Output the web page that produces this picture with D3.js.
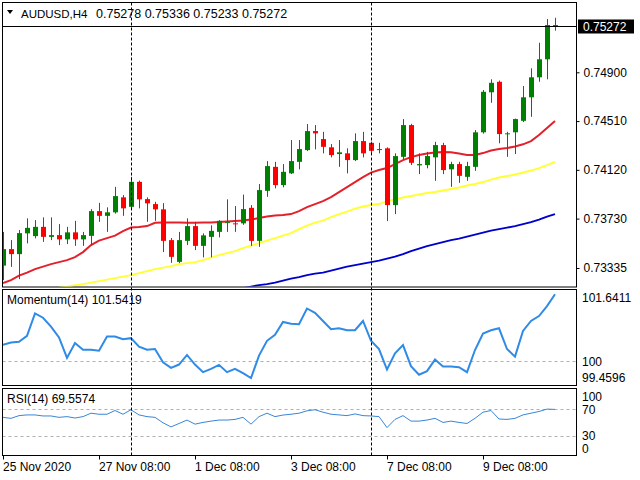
<!DOCTYPE html>
<html>
<head>
<meta charset="utf-8">
<script src="https://cdn.jsdelivr.net/npm/d3@7"></script>
<style>
  body { margin: 0; background: #fff; }
  text { font-family: "Liberation Sans", Arial, sans-serif; }
</style>
</head>
<body>
<script>
// ---- data (AUDUSD H4, 70 bars) ----
const opens = [
  0.73354, 0.73486, 0.73446, 0.73612, 0.73590, 0.73664, 0.73584, 0.73598, 0.73564, 0.73620,
  0.73564, 0.73592, 0.73790, 0.73752, 0.73780, 0.73900, 0.73824, 0.74024, 0.73886, 0.73846,
  0.73804, 0.73558, 0.73384, 0.73552, 0.73670, 0.73512, 0.73584, 0.73624, 0.73694, 0.73692,
  0.73692, 0.73816, 0.73552, 0.73952, 0.74144, 0.73998, 0.74092, 0.74184, 0.74278, 0.74430,
  0.74366, 0.74300, 0.74246, 0.74252, 0.74198, 0.74350, 0.74336, 0.74278, 0.74292, 0.73838,
  0.74224, 0.74478, 0.74156, 0.74158, 0.74220, 0.74318, 0.74124, 0.74166, 0.74064, 0.74144,
  0.74420, 0.74740, 0.74824, 0.74406, 0.74420, 0.74512, 0.74700, 0.74860, 0.75004, 0.75278
];
const highs = [
  0.73624, 0.73558, 0.73638, 0.73732, 0.73718, 0.73740, 0.73740, 0.73686, 0.73664, 0.73712,
  0.73624, 0.73806, 0.73856, 0.73820, 0.73984, 0.73918, 0.74064, 0.74034, 0.73900, 0.73864,
  0.73854, 0.73574, 0.73624, 0.73732, 0.73704, 0.73612, 0.73676, 0.73718, 0.73884, 0.73830,
  0.73922, 0.73838, 0.74006, 0.74190, 0.74184, 0.74166, 0.74358, 0.74358, 0.74486, 0.74478,
  0.74424, 0.74326, 0.74358, 0.74292, 0.74412, 0.74424, 0.74346, 0.74336, 0.74300, 0.74252,
  0.74526, 0.74488, 0.74252, 0.74264, 0.74344, 0.74336, 0.74184, 0.74184, 0.74184, 0.74438,
  0.74758, 0.74844, 0.74834, 0.74424, 0.74530, 0.74790, 0.74932, 0.75136, 0.75326, 0.75336
];
const lows = [
  0.73238, 0.73344, 0.73246, 0.73532, 0.73572, 0.73544, 0.73558, 0.73518, 0.73526, 0.73512,
  0.73512, 0.73518, 0.73704, 0.73624, 0.73770, 0.73752, 0.73814, 0.73812, 0.73704, 0.73712,
  0.73462, 0.73376, 0.73374, 0.73518, 0.73478, 0.73420, 0.73420, 0.73580, 0.73624, 0.73624,
  0.73680, 0.73512, 0.73504, 0.73904, 0.73972, 0.73980, 0.74086, 0.74124, 0.74270, 0.74284,
  0.74252, 0.74220, 0.74144, 0.74092, 0.74190, 0.74220, 0.74238, 0.74252, 0.73710, 0.73766,
  0.74204, 0.74158, 0.74086, 0.74132, 0.74032, 0.74086, 0.73984, 0.74016, 0.74032, 0.74112,
  0.74410, 0.74656, 0.74332, 0.74224, 0.74246, 0.74502, 0.74544, 0.74824, 0.74844, 0.75233
];
const closes = [
  0.73486, 0.73446, 0.73614, 0.73656, 0.73664, 0.73584, 0.73598, 0.73564, 0.73620, 0.73564,
  0.73598, 0.73790, 0.73752, 0.73780, 0.73910, 0.73812, 0.74024, 0.73884, 0.73852, 0.73804,
  0.73552, 0.73424, 0.73558, 0.73670, 0.73512, 0.73596, 0.73632, 0.73712, 0.73702, 0.73684,
  0.73806, 0.73552, 0.73958, 0.74150, 0.73998, 0.74104, 0.74190, 0.74286, 0.74430, 0.74412,
  0.74304, 0.74238, 0.74260, 0.74198, 0.74350, 0.74252, 0.74272, 0.74286, 0.73838, 0.74230,
  0.74478, 0.74176, 0.74166, 0.74230, 0.74318, 0.74118, 0.74166, 0.74072, 0.74150, 0.74420,
  0.74744, 0.74816, 0.74406, 0.74412, 0.74526, 0.74700, 0.74860, 0.75004, 0.75278, 0.75272
];

// moving averages (null = off the chart)
const maRed = [
  0.73214, 0.73238, 0.73274, 0.73298, 0.73326, 0.73346, 0.73366, 0.73382, 0.73398, 0.73422,
  0.73462, 0.73518, 0.73554, 0.73574, 0.73594, 0.73630, 0.73658, 0.73662, 0.73670, 0.73696,
  0.73698, 0.73698, 0.73698, 0.73697, 0.73697, 0.73698, 0.73698, 0.73702, 0.73706, 0.73710,
  0.73714, 0.73722, 0.73734, 0.73746, 0.73754, 0.73758, 0.73766, 0.73790, 0.73822, 0.73846,
  0.73870, 0.73902, 0.73942, 0.73982, 0.74022, 0.74062, 0.74098, 0.74118, 0.74134, 0.74166,
  0.74198, 0.74222, 0.74238, 0.74250, 0.74258, 0.74262, 0.74260, 0.74250, 0.74238, 0.74238,
  0.74254, 0.74274, 0.74286, 0.74294, 0.74306, 0.74324, 0.74350, 0.74398, 0.74454, 0.74510
];
const maYellow = [
  null, null, null, null, null, null, 0.73174, 0.73178, 0.73186, 0.73198,
  0.73206, 0.73218, 0.73230, 0.73242, 0.73254, 0.73266, 0.73278, 0.73294, 0.73310, 0.73326,
  0.73338, 0.73350, 0.73366, 0.73374, 0.73382, 0.73398, 0.73418, 0.73438, 0.73454, 0.73470,
  0.73494, 0.73514, 0.73534, 0.73554, 0.73574, 0.73594, 0.73614, 0.73646, 0.73674, 0.73698,
  0.73714, 0.73742, 0.73766, 0.73786, 0.73810, 0.73826, 0.73838, 0.73846, 0.73870, 0.73882,
  0.73898, 0.73910, 0.73922, 0.73934, 0.73942, 0.73954, 0.73966, 0.73978, 0.73994, 0.74006,
  0.74022, 0.74042, 0.74058, 0.74070, 0.74082, 0.74098, 0.74114, 0.74134, 0.74158, 0.74184
];
const maBlue = [
  null, null, null, null, null, null, null, null, null, null,
  null, null, null, null, null, null, null, null, null, null,
  null, null, null, null, null, null, null, null, null, 0.73162,
  0.73174, 0.73186, 0.73198, 0.73206, 0.73218, 0.73234, 0.73250, 0.73262, 0.73278, 0.73290,
  0.73298, 0.73314, 0.73330, 0.73346, 0.73358, 0.73370, 0.73382, 0.73394, 0.73410, 0.73426,
  0.73446, 0.73470, 0.73490, 0.73510, 0.73526, 0.73542, 0.73558, 0.73570, 0.73586, 0.73602,
  0.73618, 0.73634, 0.73646, 0.73658, 0.73670, 0.73686, 0.73702, 0.73722, 0.73746, 0.73766
];

const momentum = [
  100.371, 100.424, 100.439, 100.577, 101.098, 100.998, 100.791, 100.539, 100.064, 100.409,
  100.256, 100.256, 100.233, 100.562, 100.562, 100.501, 100.524, 100.325, 100.256, 100.271,
  99.965, 99.835, 99.911, 100.133, 99.911, 99.735, 99.812, 99.904, 99.735, 99.812,
  99.712, 99.597, 100.118, 100.462, 100.600, 100.899, 100.860, 100.845, 101.212, 101.113,
  100.922, 100.730, 100.753, 100.707, 100.707, 100.922, 100.462, 100.271, 99.796, 100.171,
  100.363, 99.873, 99.674, 99.758, 100.026, 99.865, 99.865, 99.850, 99.735, 100.248,
  100.631, 100.707, 100.753, 100.271, 100.095, 100.692, 100.922, 101.036, 101.266, 101.5419
];
const rsi = [
  57.5, 56.0, 60.1, 61.2, 61.2, 59.6, 59.6, 57.5, 58.6, 56.5,
  58.6, 63.8, 62.2, 62.2, 67.9, 62.2, 69.0, 61.2, 58.6, 57.5,
  49.3, 43.0, 48.2, 53.4, 47.2, 49.8, 51.8, 53.4, 53.4, 54.4,
  57.5, 47.2, 58.6, 63.8, 58.6, 61.0, 62.2, 63.8, 67.4, 69.0,
  65.3, 62.2, 61.2, 60.1, 62.7, 60.1, 59.6, 58.6, 42.0, 54.4,
  60.1, 51.8, 51.8, 53.4, 56.0, 49.8, 51.8, 49.8, 48.2, 56.0,
  65.3, 67.9, 55.0, 54.4, 56.0, 61.2, 63.8, 66.4, 70.0, 69.5574
];

const priceTicks = [0.74900, 0.74510, 0.74120, 0.73730, 0.73335];
const momTicks = [101.6411, 100, 99.4596];
const momTickLabels = ["101.6411", "100", "99.4596"];
const rsiTicks = [100, 70, 30, 0];
const xTickIndex = [0, 12, 24, 36, 48, 60];
const xTickLabels = ["25 Nov 2020", "27 Nov 08:00", "1 Dec 08:00", "3 Dec 08:00", "7 Dec 08:00", "9 Dec 08:00"];
const separatorIndex = [16, 46];
const header = { symbol: "AUDUSD,H4", ohlc: "0.75278 0.75336 0.75233 0.75272" };
const lastPrice = 0.75272;

// ---- layout ----
const W = 640, H = 480;
const L = 2.5, R = 576.5;
const mainP = { top: 2.5, bottom: 287 };
const momP = { top: 289.5, bottom: 385.5 };
const rsiP = { top: 388.5, bottom: 455.5 };

const svg = d3.select("body").append("svg").attr("width", W).attr("height", H);

const x = d3.scaleLinear().domain([0, opens.length - 1]).range([3, 555]);
const y = d3.scaleLinear().domain([0.73335, 0.749]).range([268, 72.3]);
const yMom = d3.scaleLinear().domain([99.4596, 101.6411]).range([384, 290]);
const yRsi = d3.scaleLinear().domain([0, 100]).range([455.3, 389.3]);

const defs = svg.append("defs");
[["clipMain", mainP], ["clipMom", momP], ["clipRsi", rsiP]].forEach(([id, p]) => {
  defs.append("clipPath").attr("id", id)
    .append("rect").attr("x", L + 0.5).attr("y", p.top + 0.5)
    .attr("width", R - L - 1).attr("height", p.bottom - p.top - 1);
});

// panel frames
[mainP, momP, rsiP].forEach((p) => {
  svg.append("rect")
    .attr("x", L).attr("y", p.top)
    .attr("width", R - L).attr("height", p.bottom - p.top)
    .attr("fill", "none").attr("stroke", "#000").attr("stroke-width", 1);
});

// ---- main panel ----
const gMain = svg.append("g").attr("clip-path", "url(#clipMain)");

const maLine = (yy) => d3.line()
  .defined((d) => d != null)
  .x((d, i) => x(i))
  .y((d) => yy(d));

[[maBlue, "#0000cd"], [maYellow, "#ffff33"], [maRed, "#e4202a"]].forEach(([arr, col]) => {
  gMain.append("path")
    .datum(arr)
    .attr("fill", "none")
    .attr("stroke", col)
    .attr("stroke-width", 2)
    .attr("d", maLine(y));
});

const bars = d3.range(opens.length).map((i) => ({
  i, o: opens[i], h: highs[i], l: lows[i], c: closes[i],
}));

const candle = gMain.selectAll("g.candle").data(bars).join("g").attr("class", "candle");
candle.append("line")
  .attr("x1", (d) => Math.round(x(d.i)) + 0.5)
  .attr("x2", (d) => Math.round(x(d.i)) + 0.5)
  .attr("y1", (d) => y(d.h))
  .attr("y2", (d) => y(d.l))
  .attr("stroke", (d) => (d.c >= d.o ? "#008000" : "#ff0000"))
  .attr("stroke-width", 1);
candle.append("rect")
  .attr("x", (d) => Math.round(x(d.i)) - 2)
  .attr("width", 5)
  .attr("y", (d) => y(Math.max(d.o, d.c)))
  .attr("height", (d) => Math.max(1, Math.abs(y(d.o) - y(d.c))))
  .attr("fill", (d) => (d.c >= d.o ? "#008000" : "#ff0000"));

// bid line
svg.append("line")
  .attr("x1", L).attr("x2", R)
  .attr("y1", Math.round(y(lastPrice)) + 0.5).attr("y2", Math.round(y(lastPrice)) + 0.5)
  .attr("stroke", "#000").attr("stroke-width", 1);

// header
svg.append("path")
  .attr("d", "M7,10 L13,10 L10,14 Z")
  .attr("fill", "#000");
svg.append("text").attr("x", 21).attr("y", 17.5)
  .attr("font-size", 11.5).attr("fill", "#000").text(header.symbol);
svg.append("text").attr("x", 96).attr("y", 17.5)
  .attr("font-size", 12.5).attr("fill", "#000").text(header.ohlc);

// right price axis
const priceAxis = d3.axisRight(y).tickValues(priceTicks).tickSize(3).tickPadding(4)
  .tickFormat(d3.format(".5f"));
svg.append("g")
  .attr("transform", `translate(${R},0)`)
  .call(priceAxis)
  .call((g) => g.select(".domain").remove())
  .call((g) => g.selectAll("text").attr("font-size", 12).attr("fill", "#000")
    .attr("font-family", "Liberation Sans, Arial, sans-serif"));

svg.append("rect")
  .attr("x", 578).attr("y", Math.round(y(lastPrice)) - 6.5)
  .attr("width", 56).attr("height", 14).attr("fill", "#000");
svg.append("text")
  .attr("x", 583).attr("y", Math.round(y(lastPrice)) + 5)
  .attr("font-size", 12).attr("fill", "#fff")
  .text(d3.format(".5f")(lastPrice));

// ---- momentum panel ----
const gMom = svg.append("g").attr("clip-path", "url(#clipMom)");
gMom.append("line")
  .attr("x1", L).attr("x2", R)
  .attr("y1", Math.round(yMom(100)) + 0.5).attr("y2", Math.round(yMom(100)) + 0.5)
  .attr("stroke", "#b0b0b0").attr("stroke-dasharray", "3,3");
gMom.append("path")
  .datum(momentum)
  .attr("fill", "none")
  .attr("stroke", "#2f8be6")
  .attr("stroke-width", 2)
  .attr("d", maLine(yMom));

svg.append("text").attr("x", 7).attr("y", 304)
  .attr("font-size", 12).attr("fill", "#000")
  .text(`Momentum(14) ${momentum[momentum.length - 1].toFixed(4)}`);

svg.append("g").selectAll("text").data(momTicks).join("text")
  .attr("x", 582)
  .attr("y", (d, i) => [302, 366, 382][i])
  .attr("font-size", 12).attr("fill", "#000")
  .text((d, i) => momTickLabels[i]);

// ---- RSI panel ----
const gRsi = svg.append("g").attr("clip-path", "url(#clipRsi)");
[70, 30].forEach((lv) => {
  gRsi.append("line")
    .attr("x1", L).attr("x2", R)
    .attr("y1", Math.round(yRsi(lv)) + 0.5).attr("y2", Math.round(yRsi(lv)) + 0.5)
    .attr("stroke", "#b0b0b0").attr("stroke-dasharray", "3,3");
});
gRsi.append("path")
  .datum(rsi)
  .attr("fill", "none")
  .attr("stroke", "#3a86d6")
  .attr("stroke-width", 1)
  .attr("d", maLine(yRsi));

svg.append("text").attr("x", 7).attr("y", 403)
  .attr("font-size", 12).attr("fill", "#000")
  .text(`RSI(14) ${rsi[rsi.length - 1].toFixed(4)}`);

svg.append("g").selectAll("text").data(rsiTicks).join("text")
  .attr("x", 582)
  .attr("y", (d, i) => [401, 414, 440, 453][i])
  .attr("font-size", 12).attr("fill", "#000")
  .text((d) => d);

// ---- week separators ----
svg.append("g").selectAll("line").data(separatorIndex).join("line")
  .attr("x1", (d) => Math.round(x(d)) + 0.5)
  .attr("x2", (d) => Math.round(x(d)) + 0.5)
  .attr("y1", mainP.top).attr("y2", rsiP.bottom)
  .attr("stroke", "#000").attr("stroke-dasharray", "3,2");

// ---- time axis ----
const gx = svg.append("g");
gx.selectAll("line").data(xTickIndex).join("line")
  .attr("x1", (d) => Math.round(x(d)) + 0.5)
  .attr("x2", (d) => Math.round(x(d)) + 0.5)
  .attr("y1", rsiP.bottom).attr("y2", rsiP.bottom + 4)
  .attr("stroke", "#000");
gx.selectAll("text").data(xTickIndex).join("text")
  .attr("x", (d) => Math.round(x(d)))
  .attr("y", 471)
  .attr("font-size", 12).attr("fill", "#000")
  .text((d, i) => xTickLabels[i]);
</script>
</body>
</html>
